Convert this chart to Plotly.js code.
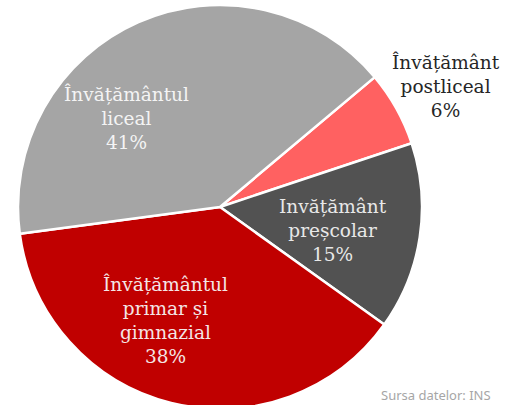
<!DOCTYPE html>
<html>
<head>
<meta charset="utf-8">
<script src="https://cdn.plot.ly/plotly-3.0.1.min.js"></script>
<style>
html, body { margin: 0; padding: 0; overflow: hidden; background: #ffffff; }
#chart { width: 517px; height: 414px; }
</style>
</head>
<body>
<div id="chart"></div>
<script>
// Data
const categories = ['Învățământ postliceal', 'Invățământ preșcolar', 'Învățământul primar și gimnazial', 'Învățământul liceal'];
const labelLines = ['Învățământ<br>postliceal', 'Invățământ<br>preșcolar', 'Învățământul<br>primar și<br>gimnazial', 'Învățământul<br>liceal'];
const shares = [6, 15, 38, 41];
const sliceColors = ['#ff6161', '#525252', '#c00000', '#a5a5a5'];
const textColors = ['#262626', '#e8e8e8', '#f4e6e6', '#f4f4f4'];
const sourceNote = 'Sursa datelor: INS';

// Layout helpers (pixel positions of label centres)
const W = 517, H = 414;
const labelPx = [[446, 86], [333, 230], [165, 320], [127, 118]];
const cx = 220, cy = 207, r = 202;

const trace = {
  type: 'pie',
  labels: categories,
  values: shares,
  sort: false,
  direction: 'clockwise',
  rotation: 50,
  textinfo: 'none',
  hoverinfo: 'none',
  marker: { colors: sliceColors, line: { color: '#ffffff', width: 2.5 } },
  domain: { x: [(cx - r) / W, (cx + r) / W], y: [(H - cy - r) / H, (H - cy + r) / H] },
  showlegend: false
};

const annotations = categories.map((c, i) => ({
  text: labelLines[i] + '<br>' + shares[i] + '%',
  x: labelPx[i][0] / W,
  y: (H - labelPx[i][1]) / H,
  xref: 'paper', yref: 'paper',
  xanchor: 'center', yanchor: 'middle',
  showarrow: false,
  align: 'center',
  font: { family: 'DejaVu Serif, serif', size: 18.5, color: textColors[i] }
}));
annotations.push({
  text: sourceNote,
  x: 436 / W, y: (H - 395) / H,
  xref: 'paper', yref: 'paper',
  xanchor: 'center', yanchor: 'middle',
  showarrow: false,
  font: { family: 'Noto Sans, sans-serif', size: 13, color: '#a6a6a6' }
});

const layout = {
  width: W, height: H,
  margin: { l: 0, r: 0, t: 0, b: 0 },
  paper_bgcolor: '#ffffff',
  plot_bgcolor: '#ffffff',
  annotations: annotations
};

Plotly.newPlot('chart', [trace], layout, { displayModeBar: false, staticPlot: true });
</script>
</body>
</html>
